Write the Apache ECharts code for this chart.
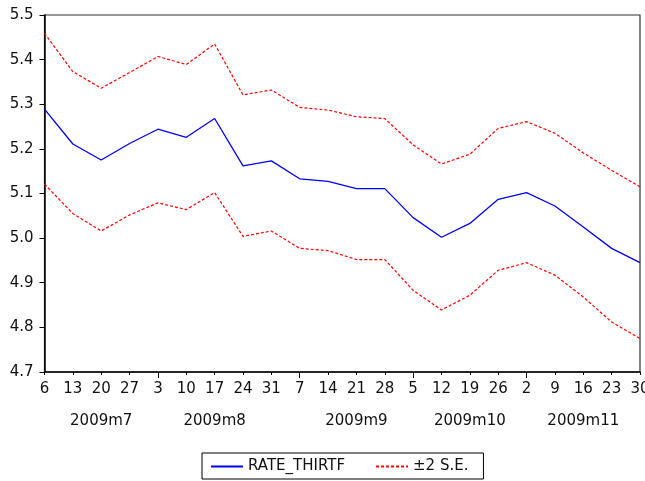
<!DOCTYPE html>
<html>
<head>
<meta charset="utf-8">
<script src="https://cdn.jsdelivr.net/npm/echarts@6/dist/echarts.min.js"></script>
<style>
html,body{margin:0;padding:0;background:#fff;overflow:hidden;}
#chart{width:645px;height:481px;}
</style>
</head>
<body>
<div id="chart"></div>
<script>
var days = ['6','13','20','27','3','10','17','24','31','7','14','21','28','5','12','19','26','2','9','16','23','30'];
var monthLabels = ['','','2009m7','','','','2009m8','','','','','2009m9','','','','2009m10','','','','2009m11','',''];
var monthStarts = [4, 9, 13, 17];
var yTicks = [4.7, 4.8, 4.9, 5.0, 5.1, 5.2, 5.3, 5.4, 5.5];

var rate  = [5.289,5.211,5.175,5.212,5.244,5.226,5.268,5.162,5.173,5.133,5.127,5.111,5.111,5.046,5.002,5.033,5.087,5.102,5.072,5.025,4.977,4.945];
var upper = [5.459,5.373,5.336,5.371,5.407,5.389,5.435,5.321,5.332,5.293,5.287,5.272,5.268,5.209,5.166,5.188,5.246,5.261,5.235,5.191,5.152,5.115];
var lower = [5.121,5.055,5.016,5.052,5.079,5.064,5.102,5.004,5.016,4.977,4.972,4.952,4.952,4.883,4.839,4.872,4.928,4.945,4.917,4.868,4.812,4.775];

var FONT = 'DejaVu Sans';
var chart = echarts.init(document.getElementById('chart'), null, {renderer: 'canvas', width: 645, height: 481});
chart.setOption({
  animation: false,
  backgroundColor: '#fff',
  grid: {left: 44.5, right: 5, top: 15, bottom: 109, show: true, borderColor: '#333', borderWidth: 1.2,
    containLabel: false, outerBoundsMode: 'none'},
  legend: {
    left: 202, top: 453,
    data: ['RATE_THIRTF', '±2 S.E.'],
    borderColor: '#000', borderWidth: 1, padding: [6, 15, 5, 8],
    itemWidth: 32, itemHeight: 14, itemGap: 30,
    itemStyle: {opacity: 0},
    textStyle: {fontFamily: FONT, fontSize: 15, color: '#111'}
  },
  xAxis: [{
    type: 'category', data: days, boundaryGap: false, position: 'bottom',
    axisLine: {lineStyle: {color: '#000', width: 1.5}},
    axisTick: {show: true, length: 3, interval: 0, lineStyle: {color: '#000'}},
    axisLabel: {interval: 0, margin: 10, fontFamily: FONT, fontSize: 15, color: '#111'},
    splitLine: {show: false}
  }, {
    type: 'category', data: monthLabels, boundaryGap: false, position: 'bottom',
    axisLine: {show: false},
    axisTick: {show: true, length: 6, interval: function (i) { return monthStarts.indexOf(i) >= 0; }, lineStyle: {color: '#000'}},
    axisLabel: {interval: function (i, v) { return v !== ''; }, margin: 42, fontFamily: FONT, fontSize: 15, color: '#111'},
    splitLine: {show: false}
  }],
  yAxis: {
    type: 'value', min: yTicks[0], max: yTicks[yTicks.length - 1], interval: 0.1,
    axisLine: {show: true, lineStyle: {color: '#000', width: 1.5}},
    axisTick: {show: true, length: 5, lineStyle: {color: '#000'}},
    axisLabel: {margin: 11, fontFamily: FONT, fontSize: 15, color: '#111', formatter: function (v) { return v.toFixed(1); }},
    splitLine: {show: false}
  },
  series: [{
    name: 'RATE_THIRTF', type: 'line', data: rate, symbol: 'none', showSymbol: false,
    lineStyle: {color: '#0000ff', width: 1.3}, itemStyle: {color: '#0000ff'}
  }, {
    name: '±2 S.E.', type: 'line', data: upper, symbol: 'none', showSymbol: false,
    lineStyle: {color: '#ff0000', width: 1.2, type: [3, 2]}, itemStyle: {color: '#ff0000'}
  }, {
    name: '±2 S.E.', type: 'line', data: lower, symbol: 'none', showSymbol: false,
    lineStyle: {color: '#ff0000', width: 1.2, type: [3, 2]}, itemStyle: {color: '#ff0000'}
  }]
});
</script>
</body>
</html>
